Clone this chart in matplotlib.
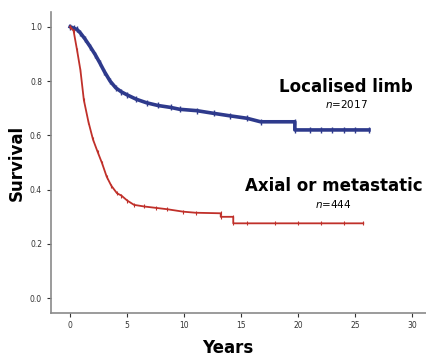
import matplotlib.pyplot as plt

# Kaplan-Meier style survival
limb_years = [0, 0.3, 0.6, 0.9, 1.3, 1.75, 2.2, 2.6, 3.0, 3.5, 4.0, 4.5, 5.0,
              5.8, 6.7, 7.7, 8.8, 9.6, 11.1, 12.6, 14.0, 15.5, 16.7, 19.7,
              19.7, 21.0, 22.0, 23.0, 24.0, 25.0, 26.2]
limb_surv = [1.0, 0.995, 0.99, 0.977, 0.955, 0.927, 0.897, 0.867, 0.835,
             0.80, 0.775, 0.76, 0.749, 0.733, 0.72, 0.71, 0.703, 0.696, 0.691,
             0.681, 0.672, 0.663, 0.65, 0.65, 0.62, 0.62, 0.62, 0.62, 0.62,
             0.62, 0.62]

axial_years = [0, 0.3, 0.6, 0.9, 1.2, 1.6, 2.0, 2.4, 2.8, 3.2, 3.6, 4.1, 4.5,
               5.0, 5.6, 6.5, 7.5, 8.5, 9.9, 11.0, 13.2, 13.2, 14.3, 14.3,
               15.5, 18.0, 20.0, 22.0, 24.0, 25.7]
axial_surv = [1.0, 0.985, 0.915, 0.84, 0.73, 0.65, 0.585, 0.54, 0.497, 0.448,
              0.415, 0.387, 0.378, 0.36, 0.344, 0.338, 0.333, 0.328, 0.319,
              0.315, 0.313, 0.30, 0.30, 0.276, 0.276, 0.276, 0.276, 0.276,
              0.276, 0.276]

blue = "#2e3a8c"
red = "#c0302a"

fig = plt.figure(figsize=(4.26, 3.56), dpi=100)
ax = fig.add_axes([0.12, 0.121, 0.88, 0.845])

ax.plot(limb_years, limb_surv, color=blue, lw=2.6, marker="|", ms=4, mew=1)
ax.plot(axial_years, axial_surv, color=red, lw=1.3, marker="|", ms=3.5,
        mew=0.8)

ax.set_xlim(-1.67, 31.2)
ax.set_ylim(-0.054, 1.054)
ax.set_xticks([0, 5, 10, 15, 20, 25, 30])
ax.set_yticks([0.0, 0.2, 0.4, 0.6, 0.8, 1.0])
ax.set_yticklabels(["0.0", "0.2", "0.4", "0.6", "0.8", "1.0"])

for side in ["top", "right"]:
    ax.spines[side].set_visible(False)
for side in ["left", "bottom"]:
    ax.spines[side].set_color("#8a8a8a")
    ax.spines[side].set_linewidth(1.2)
ax.tick_params(colors="#333333", labelsize=5.5, length=3, width=0.8)
ax.tick_params(axis="x", pad=3)

ax.set_xlabel("Years", fontsize=12, fontweight="bold", va="center")
ax.set_ylabel("Survival", fontsize=12, fontweight="bold", va="center")
ax.xaxis.set_label_coords(0.47, -0.118)
ax.yaxis.set_label_coords(-0.093, 0.5)

ax.text(24.2, 0.778, "Localised limb", fontsize=12, fontweight="bold",
        ha="center", va="center")
ax.text(24.2, 0.716, "$n$=2017", fontsize=7.5, ha="center", va="center")
ax.text(23.1, 0.414, "Axial or metastatic", fontsize=12,
        fontweight="bold", ha="center", va="center")
ax.text(23.1, 0.347, "$n$=444", fontsize=7.5, ha="center", va="center")

fig.savefig("out.png", dpi=100)
